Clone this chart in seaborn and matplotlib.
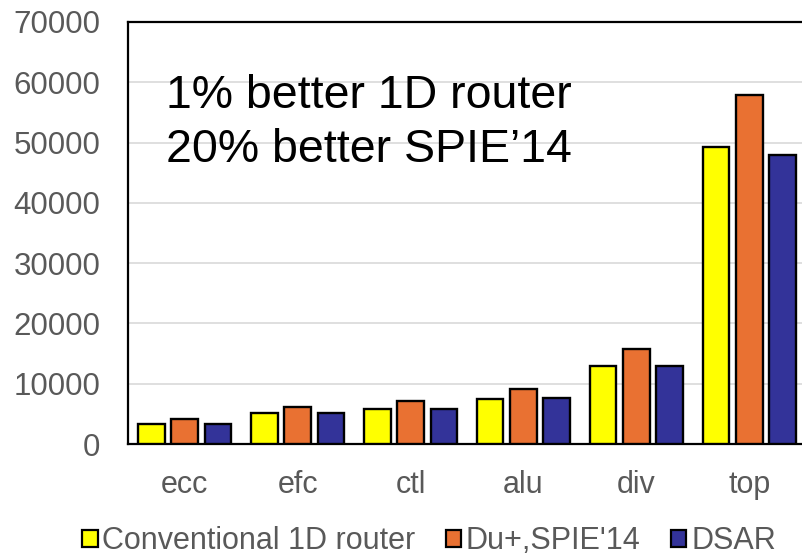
import matplotlib
matplotlib.use("Agg")
import matplotlib.pyplot as plt
import seaborn as sns
import pandas as pd
from matplotlib.patches import Patch

# Routing results per benchmark
benchmarks = ["ecc", "efc", "ctl", "alu", "div", "top"]
conventional_1d = [3280, 5110, 5830, 7390, 12940, 49300]
du_spie14 = [4110, 6170, 7060, 9110, 15780, 57830]
dsar = [3330, 5170, 5830, 7560, 13000, 48010]

series_names = ["Conventional 1D router", "Du+,SPIE'14", "DSAR"]
series_colors = ["#FFFF00", "#E97132", "#333399"]
y_ticks = [0, 10000, 20000, 30000, 40000, 50000, 60000, 70000]

rows = []
for name, values in zip(series_names, [conventional_1d, du_spie14, dsar]):
    for b, v in zip(benchmarks, values):
        rows.append({"benchmark": b, "method": name, "value": v})
df = pd.DataFrame(rows)

sns.set_style("white")
plt.rcParams["font.family"] = ["Liberation Sans", "DejaVu Sans"]

fig = plt.figure(figsize=(8.02, 5.58), dpi=100)
ax = fig.add_axes([0.1599, 0.2043, 0.8448, 0.7563])

sns.barplot(
    data=df, x="benchmark", y="value", hue="method",
    order=benchmarks, hue_order=series_names,
    palette=series_colors, saturation=1,
    width=0.885, gap=0.2,
    edgecolor="black", linewidth=1.7,
    errorbar=None, legend=False, ax=ax, zorder=3,
)

ax.set_xlim(-0.5, 5.5)
ax.set_ylim(0, 70000)
ax.set_yticks(y_ticks)
ax.set_yticklabels([str(t) for t in y_ticks])
ax.set_xlabel("")
ax.set_ylabel("")
ax.yaxis.grid(True, color="#D9D9D9", linewidth=1.2, zorder=0)
ax.set_axisbelow(True)

for side in ["left", "bottom", "top", "right"]:
    ax.spines[side].set_visible(True)
    ax.spines[side].set_color("black")
    ax.spines[side].set_linewidth(1.6)

ax.tick_params(axis="y", length=0, pad=20, labelsize=22.5, labelcolor="#595959")
ax.tick_params(axis="x", length=0, pad=19, labelsize=22, labelcolor="#595959")

fig.text(166 / 802, 1 - 108 / 558, "1% better 1D router",
         fontsize=33.5, color="black", va="baseline", ha="left")
fig.text(166 / 802, 1 - 161.7 / 558, "20% better SPIE\u201914",
         fontsize=33.5, color="black", va="baseline", ha="left")

handles = [Patch(facecolor=c, edgecolor="black", linewidth=1.6) for c in series_colors]
leg = fig.legend(handles, series_names, loc="center", bbox_to_anchor=(0.535, 0.030),
                 ncol=3, frameon=False, fontsize=22, handlelength=0.5, handleheight=0.5,
                 handletextpad=0.15, columnspacing=1.0)
for t in leg.get_texts():
    t.set_color("#595959")

fig.savefig("out.png", dpi=100)
